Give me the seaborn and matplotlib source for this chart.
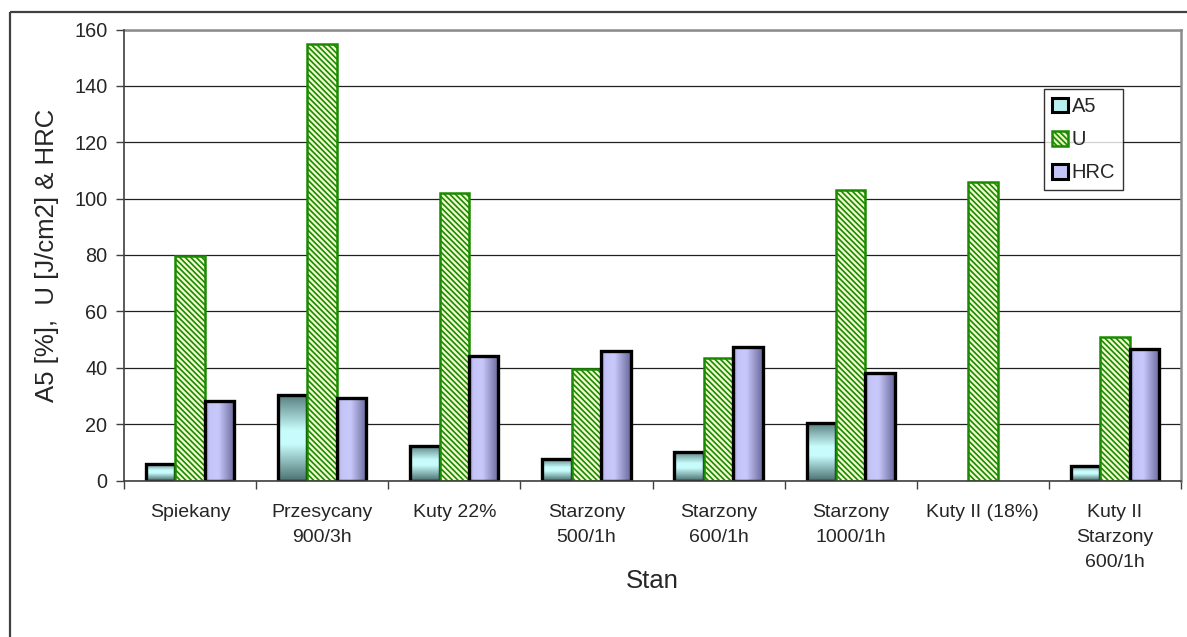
import numpy as np
import pandas as pd
import matplotlib
matplotlib.use("Agg")
import matplotlib.pyplot as plt
from matplotlib.patches import Rectangle
from matplotlib.colors import LinearSegmentedColormap
import seaborn as sns

categories = ["Spiekany", "Przesycany\n900/3h", "Kuty 22%", "Starzony\n500/1h",
              "Starzony\n600/1h", "Starzony\n1000/1h", "Kuty II (18%)",
              "Kuty II\nStarzony\n600/1h"]
a5_values = [6, 30.3, 12.3, 7.5, 10, 20.3, 0, 5.2]
u_values = [79.5, 154.7, 102, 39.5, 43.3, 103, 106, 51]
hrc_values = [28.3, 29.2, 44.2, 46, 47.2, 38.3, 0, 46.8]
series_names = ["A5", "U", "HRC"]
y_ticks = [0, 20, 40, 60, 80, 100, 120, 140, 160]

sns.set_theme(style="white")
plt.rcParams['font.family'] = ['Liberation Sans', 'DejaVu Sans']
plt.rcParams['hatch.linewidth'] = 1.2

rows = []
for c, a, u, h in zip(categories, a5_values, u_values, hrc_values):
    rows.append((c, "A5", a))
    rows.append((c, "U", u))
    rows.append((c, "HRC", h))
df = pd.DataFrame(rows, columns=["Stan", "series", "value"])

W, H = 1187, 637
fig = plt.figure(figsize=(W / 100, H / 100), dpi=100)
ax = fig.add_axes([124 / W, 1 - 480.5 / H, (1181 - 124) / W, (480.5 - 29.5) / H])

sns.barplot(data=df, x="Stan", y="value", hue="series", order=categories,
            hue_order=series_names, width=0.667, gap=0, ax=ax,
            palette={"A5": "#c8fcfc", "U": "#e4f5c0", "HRC": "#c4c4f8"},
            saturation=1, legend=False)

ax.set_xlim(-0.5, len(categories) - 0.5)
ax.set_ylim(0, 160)
ax.set_yticks(y_ticks)

cm_a5 = LinearSegmentedColormap.from_list("a5", [(0, "#4f7575"), (0.42, "#c8fcfc"),
                                                 (0.58, "#c8fcfc"), (1, "#557b7b")])
cm_hrc = LinearSegmentedColormap.from_list("hrc", [(0, "#9a9ad0"), (0.15, "#c4c4f8"),
                                                   (0.45, "#c8c8fa"), (1, "#68689a")])

containers = ax.containers
for name, cont in zip(series_names, containers):
    for bar in cont:
        x0, y0 = bar.get_x(), bar.get_y()
        w, h = bar.get_width(), bar.get_height()
        if h <= 0:
            bar.set_visible(False)
            continue
        if name == "U":
            bar.set_facecolor("#f2fad0")
            bar.set_edgecolor("#1a8a00")
            bar.set_hatch("\\\\\\\\\\\\")
            bar.set_linewidth(1.8)
            bar.set_zorder(3)
        else:
            bar.set_edgecolor("black")
            bar.set_linewidth(2.4)
            bar.set_zorder(3)
            if name == "A5":
                grad = np.linspace(0, 1, 256).reshape(-1, 1)
            else:
                grad = np.linspace(0, 1, 256).reshape(1, -1)
            im = ax.imshow(grad, cmap=cm_a5 if name == "A5" else cm_hrc, aspect="auto",
                           extent=(x0, x0 + w, y0, y0 + h), origin="lower",
                           zorder=2.9, interpolation="bilinear")
            bar.set_facecolor("none")
            im.set_clip_path(bar)

ax.set_xlim(-0.5, len(categories) - 0.5)
ax.set_ylim(0, 160)

ax.yaxis.grid(True, color="#202020", linewidth=0.9)
ax.set_axisbelow(True)
for s in ["top", "right"]:
    ax.spines[s].set_color("#8c8c8c")
    ax.spines[s].set_linewidth(1.8)
for s in ["left", "bottom"]:
    ax.spines[s].set_color("#404040")
    ax.spines[s].set_linewidth(1.2)
    ax.spines[s].set_zorder(4)

ax.tick_params(axis="y", which="major", length=6, width=1, color="#404040",
               labelsize=14.3, pad=6, left=True)
ax.tick_params(axis="x", which="major", length=0, labelsize=14, pad=17)
ax.set_xticks(np.arange(-0.5, len(categories), 1.0), minor=True)
ax.tick_params(axis="x", which="minor", length=6, width=1, color="#404040", bottom=True)
for lbl in ax.get_xticklabels():
    lbl.set_linespacing(1.62)

ax.set_xlabel("Stan", fontsize=18.5, labelpad=-1.7)
ax.set_ylabel("A5 [%],  U [J/cm2] & HRC", fontsize=18.5, labelpad=11)

leg = ax.legend(containers, series_names, loc="upper left",
                bbox_to_anchor=((1044 - 124) / (1181 - 124), (480.5 - 89) / (480.5 - 29.5)),
                fontsize=14.5, frameon=True, fancybox=False, edgecolor="black",
                handlelength=0.78, handleheight=0.75, handletextpad=0.2,
                labelspacing=0.7, borderpad=0.4, borderaxespad=0)
leg.get_frame().set_linewidth(1.0)
leg.set_zorder(6)
lh = leg.legend_handles
lh[0].set_facecolor("#b8f0f0"); lh[0].set_edgecolor("black"); lh[0].set_linewidth(2.2)
lh[1].set_facecolor("#e4f5c0"); lh[1].set_edgecolor("#1a8a00"); lh[1].set_hatch("\\\\\\\\\\\\")
lh[2].set_facecolor("#c4c4f8"); lh[2].set_edgecolor("black"); lh[2].set_linewidth(2.2)

frame = Rectangle((10 / W, 1 - 12 / H), (W + 20) / W, -(H + 20) / H,
                  transform=fig.transFigure, fill=False, edgecolor="#404040",
                  linewidth=1.6, zorder=0)
fig.patches.append(frame)

fig.savefig("out.png", dpi=100)
